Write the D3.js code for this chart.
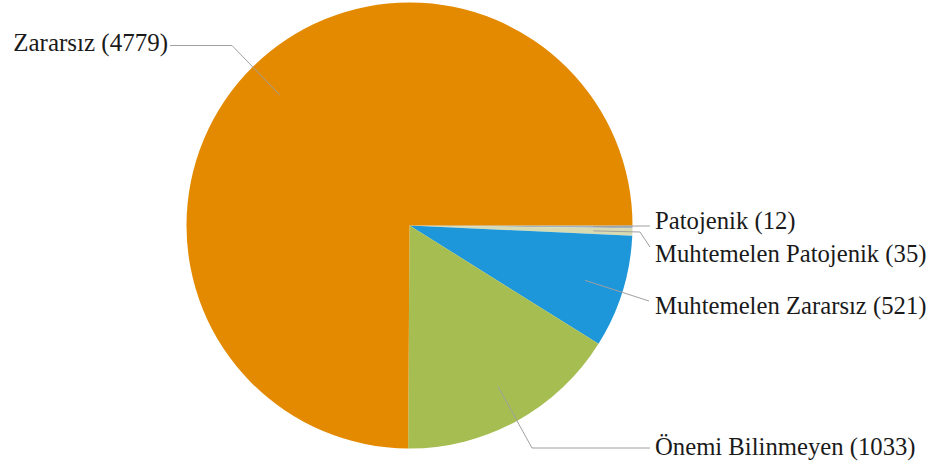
<!DOCTYPE html>
<html>
<head>
<meta charset="utf-8">
<script src="https://cdn.jsdelivr.net/npm/d3@7"></script>
<style>
  html, body { margin: 0; padding: 0; background: #fff; }
  svg { display: block; }
</style>
</head>
<body>
<svg id="chart" width="935" height="469"></svg>
<script>
// ---- data ----
const categories = ["Patojenik", "Muhtemelen Patojenik", "Muhtemelen Zararsız", "Önemi Bilinmeyen", "Zararsız"];
const counts = [12, 35, 521, 1033, 4779];
const colors = ["#9fb3c2", "#d8dbb2", "#1d96da", "#a6bd51", "#e38a00"];

// ---- label layout (positions only) ----
const labelLayout = [
  { elbow: [640, 226], end: [650, 226], text: [655, 229], anchor: "start" },
  { elbow: [640, 232], end: [650, 247], text: [655, 262], anchor: "start" },
  { elbow: null,       end: [649, 301], text: [655, 314], anchor: "start" },
  { elbow: [532, 448], end: [650, 448], text: [655, 455], anchor: "start" },
  { elbow: [232, 45.5], end: [170, 45.5], text: [168, 51], anchor: "end" }
];

const W = 935, H = 469;
const cx = 409.5, cy = 225.5, R = 223;

const svg = d3.select("#chart");
const g = svg.append("g").attr("transform", `translate(${cx},${cy})`);

const pie = d3.pie().sort(null).value(d => d)
  .startAngle(Math.PI / 2).endAngle(Math.PI / 2 + 2 * Math.PI);
const arcs = pie(counts);
const arc = d3.arc().innerRadius(0).outerRadius(R);
const innerArc = d3.arc().innerRadius(R * 0.825).outerRadius(R * 0.825);

g.selectAll("path.slice")
  .data(arcs)
  .join("path")
  .attr("class", "slice")
  .attr("d", arc)
  .attr("fill", (d, i) => colors[i]);

// leader lines
const lines = svg.append("g");
arcs.forEach((d, i) => {
  const c = innerArc.centroid(d);
  const start = [cx + c[0], cy + c[1]];
  const L = labelLayout[i];
  const pts = [start];
  if (L.elbow) pts.push(L.elbow);
  pts.push(L.end);
  lines.append("polyline")
    .attr("points", pts.map(p => p.join(",")).join(" "))
    .attr("fill", "none")
    .attr("stroke", "#a0a0a0")
    .attr("stroke-width", 1);
});

// labels
svg.append("g").selectAll("text")
  .data(arcs)
  .join("text")
  .attr("x", (d, i) => labelLayout[i].text[0])
  .attr("y", (d, i) => labelLayout[i].text[1])
  .attr("text-anchor", (d, i) => labelLayout[i].anchor)
  .attr("font-family", "'Liberation Serif', 'Times New Roman', serif")
  .attr("font-size", (d, i) => i === 4 ? 25 : 24.7)
  .attr("fill", "#1a1a1a")
  .text((d, i) => `${categories[i]} (${counts[i]})`);
</script>
</body>
</html>
